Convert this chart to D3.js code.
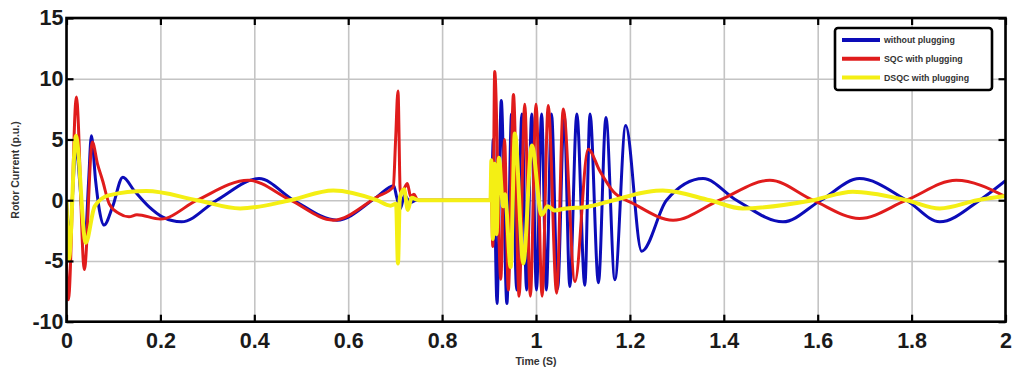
<!DOCTYPE html>
<html>
<head>
<meta charset="utf-8">
<script src="https://cdn.jsdelivr.net/npm/d3@7"></script>
<style>
  body { margin: 0; background: #fff; }
  text { font-family: "Liberation Sans", Arial, sans-serif; }
</style>
</head>
<body>
<svg id="chart" width="1013" height="370"></svg>
<script>
// legend names, ticks
const seriesNames = ['without plugging', 'SQC with plugging', 'DSQC with plugging'];
const xTicks = [0, 0.2, 0.4, 0.6, 0.8, 1, 1.2, 1.4, 1.6, 1.8, 2];
const yTicks = [-10, -5, 0, 5, 10, 15];

// [time (s), rotor current (p.u.)]
const withoutPlugging = [
  [0, 0], [0.006, -3], [0.02, 4], [0.04, -3], [0.047, 1.5], [0.053, 5.3], [0.062, 1.6], [0.07, -0.8],
  [0.08, -2.05], [0.098, -0.55], [0.12, 1.9], [0.144, 0.8], [0.176, -0.55], [0.204, -1.37],
  [0.245, -1.78], [0.32, 0], [0.41, 1.78], [0.484, 0], [0.576, -1.64], [0.661, 0.27],
  [0.697, 1.2], [0.703, 0.3], [0.711, -0.7], [0.72, 0.4], [0.732, -0.2], [0.745, 0],
  [0.905, 0], [0.909, 5], [0.917, -8.5], [0.926, 8.2], [0.938, -8.5], [0.948, 7.1],
  [0.959, -7.4], [0.970, 7.1], [0.980, -7.4], [0.991, 7.1], [1.001, -7.4], [1.012, 7.1],
  [1.022, -7.4], [1.033, 7.1], [1.046, -7.3], [1.060, 7.1], [1.072, -7.1], [1.087, 7.1],
  [1.104, -7.0], [1.115, 7.1], [1.133, -6.8], [1.149, 6.8], [1.168, -6.55], [1.191, 6.15],
  [1.225, -4.2], [1.278, 0], [1.356, 1.78], [1.427, 0], [1.526, -1.78], [1.607, 0],
  [1.689, 1.78], [1.789, 0], [1.86, -1.78], [1.945, 0], [2.0, 1.6]
];

const sqcPlugging = [
  [0, -5], [0.004, -8.2], [0.021, 8.5], [0.038, -5.7], [0.055, 4.8], [0.066, 3.0],
  [0.077, 1.6], [0.091, -0.3], [0.112, -1.1], [0.133, -1.37], [0.15, -1.2], [0.2, -1.55],
  [0.278, 0], [0.387, 1.64], [0.477, 0], [0.568, -1.64], [0.661, 0.27], [0.696, 1.1],
  [0.701, 5], [0.706, 9.0], [0.711, 0.7], [0.718, 0.9], [0.726, 1.37], [0.733, 0.3],
  [0.74, 0.5], [0.746, 0.1], [0.75, 0], [0.905, 0], [0.908, -3.8], [0.912, 10.6],
  [0.925, -6.5], [0.933, 5], [0.941, -7.4], [0.952, 8.7], [0.964, -7.9], [0.976, 7.9],
  [0.988, -7.9], [1.0, 7.9], [1.013, -7.9], [1.026, 7.8], [1.044, -7.65], [1.058, 7.5],
  [1.083, -6.7], [1.111, 4.2], [1.136, 2.4], [1.165, 0.7], [1.207, -0.27], [1.292, -1.64],
  [1.391, 0], [1.498, 1.64], [1.59, 0], [1.689, -1.5], [1.789, 0], [1.895, 1.64], [2.0, 0.3]
];

const dsqcPlugging = [
  [0, 0], [0.005, -4.9], [0.02, 5.3], [0.041, -3.5], [0.06, -0.5], [0.09, 0.4], [0.17, 0.75],
  [0.278, 0], [0.37, -0.68], [0.477, 0], [0.568, 0.8], [0.661, 0], [0.69, -0.45],
  [0.702, -0.3], [0.706, -5.2], [0.710, 0.2], [0.719, 0.9], [0.727, -0.8], [0.735, 0.2],
  [0.75, 0], [0.903, 0], [0.905, 3.3], [0.908, -3.2], [0.912, 3.0], [0.916, -2.8],
  [0.921, 3.5], [0.93, -0.5], [0.934, 0.5], [0.946, -5.5], [0.955, 5.5], [0.973, -5.2],
  [0.991, 4.5], [1.012, -1.2], [1.025, -0.5], [1.04, -0.85], [1.06, -0.7], [1.108, -0.55],
  [1.165, 0], [1.236, 0.68], [1.27, 0.8], [1.37, 0], [1.44, -0.68], [1.59, 0], [1.675, 0.7],
  [1.789, 0], [1.86, -0.68], [1.94, 0], [2.0, 0.35]
];

const box = {left: 66.5, right: 1005.5, top: 18, bottom: 321.7};

const xScale = d3.scaleLinear().domain([0, 2]).range([box.left, box.right]);
const yScale = d3.scaleLinear().domain([-10, 15]).range([box.bottom, box.top]);

const svg = d3.select('#chart');

svg.append('defs').append('clipPath').attr('id', 'plotClip')
   .append('rect')
   .attr('x', box.left).attr('y', box.top)
   .attr('width', box.right - box.left).attr('height', box.bottom - box.top);

// grid
const gridX = d3.axisBottom(xScale).tickValues(xTicks).tickSize(-(box.bottom - box.top)).tickFormat('');
const gridY = d3.axisLeft(yScale).tickValues(yTicks).tickSize(-(box.right - box.left)).tickFormat('');

svg.append('g').attr('class', 'grid')
   .attr('transform', `translate(0,${box.bottom})`).call(gridX);
svg.append('g').attr('class', 'grid')
   .attr('transform', `translate(${box.left},0)`).call(gridY);
svg.selectAll('.grid .domain').remove();
svg.selectAll('.grid line').attr('stroke', '#c4c4c4').attr('stroke-width', 1.6);

// lines
const line = d3.line()
               .x(d => xScale(d[0]))
               .y(d => yScale(d[1]))
               .curve(d3.curveMonotoneX);

const styles = [
  {color: '#0c0cb8', width: 3},
  {color: '#e01c1c', width: 3},
  {color: '#f4ef14', width: 4}
];
const allSeries = [withoutPlugging, sqcPlugging, dsqcPlugging];

const gLines = svg.append('g').attr('clip-path', 'url(#plotClip)');
allSeries.forEach((s, i) => {
  gLines.append('path')
        .datum(s)
        .attr('fill', 'none')
        .attr('stroke', styles[i].color)
        .attr('stroke-width', styles[i].width)
        .attr('stroke-linejoin', 'round')
        .attr('d', line);
});

// axes, ticks inward on all four sides
const tickFont = g => {
  g.selectAll('text')
   .attr('font-size', 21.5)
   .attr('font-weight', 'bold')
   .attr('fill', '#1a1a1a');
  g.selectAll('line').attr('stroke', '#000').attr('stroke-width', 2.2);
  g.select('.domain').remove();
};

svg.append('g')
   .attr('transform', `translate(0,${box.bottom})`)
   .call(d3.axisBottom(xScale).tickValues(xTicks).tickSize(-7).tickPadding(11).tickFormat(d => String(d)))
   .call(tickFont);
svg.append('g')
   .attr('transform', `translate(0,${box.top})`)
   .call(d3.axisTop(xScale).tickValues(xTicks).tickSize(-7).tickFormat(''))
   .call(tickFont);
svg.append('g')
   .attr('transform', `translate(${box.left},0)`)
   .call(d3.axisLeft(yScale).tickValues(yTicks).tickSize(-7).tickPadding(3).tickFormat(d => String(d)))
   .call(tickFont);
svg.append('g')
   .attr('transform', `translate(${box.right},0)`)
   .call(d3.axisRight(yScale).tickValues(yTicks).tickSize(-7).tickFormat(''))
   .call(tickFont);

svg.selectAll('.tick text').attr('font-family', '"Liberation Sans", Arial, sans-serif');

// frame
svg.append('rect')
   .attr('x', box.left).attr('y', box.top)
   .attr('width', box.right - box.left).attr('height', box.bottom - box.top)
   .attr('fill', 'none').attr('stroke', '#000').attr('stroke-width', 2.6);

// axis titles
svg.append('text')
   .attr('x', xScale(1)).attr('y', 365)
   .attr('text-anchor', 'middle')
   .attr('font-size', 10.5).attr('font-weight', 'bold').attr('fill', '#333')
   .text('Time (S)');

svg.append('text')
   .attr('transform', 'translate(19,170) rotate(-90)')
   .attr('text-anchor', 'middle')
   .attr('font-size', 10.5).attr('font-weight', 'bold').attr('fill', '#333')
   .text('Rotor Current (p.u.)');

// legend
const legend = svg.append('g').attr('transform', 'translate(835,28)');
legend.append('rect')
      .attr('width', 157).attr('height', 62).attr('rx', 3)
      .attr('fill', '#fff').attr('stroke', '#000').attr('stroke-width', 2.6);

seriesNames.forEach((name, i) => {
  const yy = 12 + i * 18.8;
  legend.append('line')
        .attr('x1', 7).attr('x2', 45).attr('y1', yy).attr('y2', yy)
        .attr('stroke', styles[i].color).attr('stroke-width', 4);
  legend.append('text')
        .attr('x', 49).attr('y', yy).attr('dy', '0.35em')
        .attr('font-size', 8.8).attr('font-weight', 'bold').attr('fill', '#333')
        .text(name);
});
</script>
</body>
</html>
